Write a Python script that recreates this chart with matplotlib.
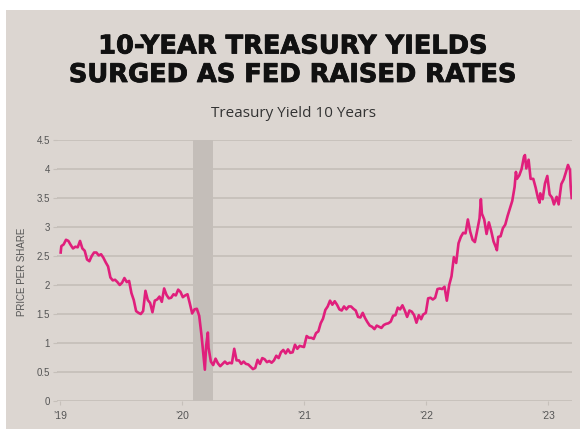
import matplotlib
matplotlib.use('Agg')
import matplotlib.pyplot as plt
import matplotlib.patheffects as pe
import pandas as pd

# 10-year treasury yield, roughly weekly readings (%)
dates = [
    "2019-01-02", "2019-01-04", "2019-01-11", "2019-01-18", "2019-01-25", "2019-02-01", "2019-02-08",
    "2019-02-15", "2019-02-22", "2019-03-01", "2019-03-08", "2019-03-15", "2019-03-22", "2019-03-29",
    "2019-04-05", "2019-04-12", "2019-04-19", "2019-04-26", "2019-05-03", "2019-05-10", "2019-05-17",
    "2019-05-24", "2019-05-31", "2019-06-07", "2019-06-14", "2019-06-21", "2019-06-28", "2019-07-05",
    "2019-07-12", "2019-07-19", "2019-07-26", "2019-08-02", "2019-08-09", "2019-08-16", "2019-08-23",
    "2019-08-30", "2019-09-06", "2019-09-13", "2019-09-20", "2019-09-27", "2019-10-04", "2019-10-11",
    "2019-10-18", "2019-10-25", "2019-11-01", "2019-11-08", "2019-11-15", "2019-11-22", "2019-11-29",
    "2019-12-06", "2019-12-13", "2019-12-20", "2019-12-27",
    "2020-01-03", "2020-01-10", "2020-01-17", "2020-01-24", "2020-01-31", "2020-02-07", "2020-02-14",
    "2020-02-21", "2020-02-28", "2020-03-06", "2020-03-09", "2020-03-13", "2020-03-18", "2020-03-20",
    "2020-03-27", "2020-04-03", "2020-04-10", "2020-04-17", "2020-04-24", "2020-05-01", "2020-05-08",
    "2020-05-15", "2020-05-22", "2020-05-29", "2020-06-05", "2020-06-12", "2020-06-19", "2020-06-26",
    "2020-07-03", "2020-07-10", "2020-07-17", "2020-07-24", "2020-07-31", "2020-08-07", "2020-08-14",
    "2020-08-21", "2020-08-28", "2020-09-04", "2020-09-11", "2020-09-18", "2020-09-25", "2020-10-02",
    "2020-10-09", "2020-10-16", "2020-10-23", "2020-10-30", "2020-11-06", "2020-11-13", "2020-11-20",
    "2020-11-27", "2020-12-04", "2020-12-11", "2020-12-18", "2020-12-24", "2020-12-31",
    "2021-01-08", "2021-01-15", "2021-01-22", "2021-01-29", "2021-02-05", "2021-02-12", "2021-02-19",
    "2021-02-26", "2021-03-05", "2021-03-12", "2021-03-19", "2021-03-26", "2021-04-02", "2021-04-09",
    "2021-04-16", "2021-04-23", "2021-04-30", "2021-05-07", "2021-05-14", "2021-05-21", "2021-05-28",
    "2021-06-04", "2021-06-11", "2021-06-18", "2021-06-25", "2021-07-02", "2021-07-09", "2021-07-16",
    "2021-07-23", "2021-07-30", "2021-08-06", "2021-08-13", "2021-08-20", "2021-08-27", "2021-09-03",
    "2021-09-10", "2021-09-17", "2021-09-24", "2021-10-01", "2021-10-08", "2021-10-15", "2021-10-22",
    "2021-10-29", "2021-11-05", "2021-11-12", "2021-11-19", "2021-11-26", "2021-12-03", "2021-12-10",
    "2021-12-17", "2021-12-23", "2021-12-31",
    "2022-01-07", "2022-01-14", "2022-01-21", "2022-01-28", "2022-02-04", "2022-02-11", "2022-02-18",
    "2022-02-25", "2022-03-04", "2022-03-11", "2022-03-18", "2022-03-25", "2022-04-01", "2022-04-08",
    "2022-04-15", "2022-04-22", "2022-04-29", "2022-05-06", "2022-05-13", "2022-05-20", "2022-05-27",
    "2022-06-03", "2022-06-10", "2022-06-14", "2022-06-17", "2022-06-24", "2022-07-01", "2022-07-08",
    "2022-07-15", "2022-07-22", "2022-07-29", "2022-08-01", "2022-08-05", "2022-08-12", "2022-08-19",
    "2022-08-26", "2022-09-02", "2022-09-09", "2022-09-16", "2022-09-23", "2022-09-27", "2022-09-30",
    "2022-10-07", "2022-10-14", "2022-10-21", "2022-10-24", "2022-10-28", "2022-11-04", "2022-11-10",
    "2022-11-18", "2022-11-25", "2022-12-02", "2022-12-07", "2022-12-09", "2022-12-16", "2022-12-23",
    "2022-12-30",
    "2023-01-06", "2023-01-13", "2023-01-19", "2023-01-27", "2023-02-02", "2023-02-10", "2023-02-17",
    "2023-02-24", "2023-03-02", "2023-03-08", "2023-03-10", "2023-03-13",
]
yields = [
    2.56, 2.67, 2.70, 2.78, 2.76, 2.69, 2.63,
    2.66, 2.65, 2.76, 2.63, 2.59, 2.44, 2.41,
    2.50, 2.56, 2.56, 2.51, 2.53, 2.47, 2.39,
    2.32, 2.13, 2.08, 2.09, 2.05, 2.00, 2.04,
    2.12, 2.05, 2.07, 1.86, 1.74, 1.55, 1.52,
    1.50, 1.55, 1.90, 1.74, 1.69, 1.53, 1.73,
    1.75, 1.80, 1.71, 1.94, 1.83, 1.77, 1.78,
    1.84, 1.82, 1.92, 1.88,
    1.79, 1.82, 1.84, 1.68, 1.51, 1.58, 1.59,
    1.47, 1.13, 0.71, 0.54, 0.96, 1.18, 0.92,
    0.68, 0.62, 0.73, 0.65, 0.60, 0.64, 0.68,
    0.64, 0.66, 0.65, 0.90, 0.70, 0.70, 0.64,
    0.68, 0.64, 0.63, 0.59, 0.55, 0.57, 0.71,
    0.64, 0.74, 0.72, 0.67, 0.69, 0.66, 0.70,
    0.78, 0.74, 0.84, 0.88, 0.82, 0.89, 0.83,
    0.84, 0.97, 0.90, 0.95, 0.94, 0.93,
    1.12, 1.09, 1.09, 1.07, 1.17, 1.20, 1.34,
    1.42, 1.57, 1.63, 1.73, 1.66, 1.72, 1.66,
    1.58, 1.56, 1.63, 1.58, 1.63, 1.63, 1.59,
    1.56, 1.45, 1.44, 1.52, 1.43, 1.36, 1.30,
    1.28, 1.24, 1.30, 1.28, 1.26, 1.31, 1.33,
    1.34, 1.37, 1.47, 1.48, 1.61, 1.58, 1.65,
    1.56, 1.45, 1.56, 1.54, 1.48, 1.35, 1.48,
    1.41, 1.49, 1.52,
    1.77, 1.78, 1.75, 1.78, 1.93, 1.94, 1.93,
    1.97, 1.73, 2.00, 2.15, 2.48, 2.38, 2.72,
    2.83, 2.90, 2.89, 3.13, 2.92, 2.78, 2.74,
    2.94, 3.15, 3.48, 3.23, 3.13, 2.88, 3.08,
    2.93, 2.75, 2.65, 2.60, 2.83, 2.84, 2.98,
    3.04, 3.19, 3.32, 3.45, 3.69, 3.95, 3.83,
    3.89, 4.00, 4.21, 4.24, 4.01, 4.16, 3.83,
    3.83, 3.68, 3.50, 3.42, 3.58, 3.48, 3.75,
    3.88,
    3.56, 3.51, 3.39, 3.52, 3.39, 3.74, 3.82,
    3.95, 4.07, 3.98, 3.70, 3.50,
]

y_ticks = [0, 0.5, 1, 1.5, 2, 2.5, 3, 3.5, 4, 4.5]
y_tick_labels = ["0", "0.5", "1", "1.5", "2", "2.5", "3", "3.5", "4", "4.5"]
x_tick_dates = ["2019-01-01", "2020-01-01", "2021-01-01", "2022-01-01", "2023-01-01"]
x_tick_labels = ["\u201919", "\u201920", "\u201921", "\u201922", "\u201923"]
recession = ("2020-02-01", "2020-04-01")

bg = "#dcd6d1"
grid_col = "#c6c0ba"
narrow = ["Liberation Sans Narrow", "Liberation Sans", "DejaVu Sans"]

fig = plt.figure(figsize=(5.8, 4.29), dpi=100, facecolor="white")
fig.patches.append(plt.Rectangle((6 / 580, 0), 1, 1 - 10 / 429, transform=fig.transFigure,
                                 facecolor=bg, edgecolor="none", zorder=-5))

ax = fig.add_axes([57 / 580, 1 - 401 / 429, (572 - 57) / 580, (401 - 140) / 429])
ax.patch.set_alpha(0)

x = pd.to_datetime(dates)
ax.axvspan(pd.Timestamp(recession[0]), pd.Timestamp(recession[1]), color="#c4beb9", zorder=1, lw=0)
ax.plot(x, yields, color="#e01f7c", lw=1.9, zorder=3)

ax.set_ylim(0, 4.5)
ax.set_xlim(pd.Timestamp("2018-12-22"), pd.Timestamp("2023-03-14"))
ax.set_yticks(y_ticks)
ax.set_yticklabels(y_tick_labels, family=narrow, fontsize=7, color="#555555")
ax.set_xticks(pd.to_datetime(x_tick_dates))
ax.set_xticklabels(x_tick_labels, family=narrow, fontsize=7.5, color="#555555")
ax.grid(axis="y", color=grid_col, lw=1.3, zorder=0)
ax.set_axisbelow(True)
ax.tick_params(axis="y", length=3, color=grid_col, pad=2)
ax.tick_params(axis="x", length=3, color=grid_col, pad=4)
for s in ax.spines.values():
    s.set_visible(False)

fig.text(22 / 580, 1 - 272 / 429, "PRICE PER SHARE", rotation=90, ha="center", va="center",
         family=narrow, fontsize=7, color="#555555")

# heavier title: bold face plus a thin outline in the same colour
heavy = [pe.withStroke(linewidth=0.6, foreground="#111111")]
fig.text(0.506, 1 - 46.5 / 429, "10-YEAR TREASURY YIELDS", ha="center", va="center",
         family="DejaVu Sans", weight="bold", fontsize=18.5, color="#111111", path_effects=heavy)
fig.text(0.506, 1 - 75 / 429, "SURGED AS FED RAISED RATES", ha="center", va="center",
         family="DejaVu Sans", weight="bold", fontsize=18.5, color="#111111", path_effects=heavy)
fig.text(0.506, 1 - 113 / 429, "Treasury Yield 10 Years", ha="center", va="center",
         family="Open Sans", fontsize=11, color="#333333")

fig.savefig("out.png", dpi=100, facecolor=fig.get_facecolor())
